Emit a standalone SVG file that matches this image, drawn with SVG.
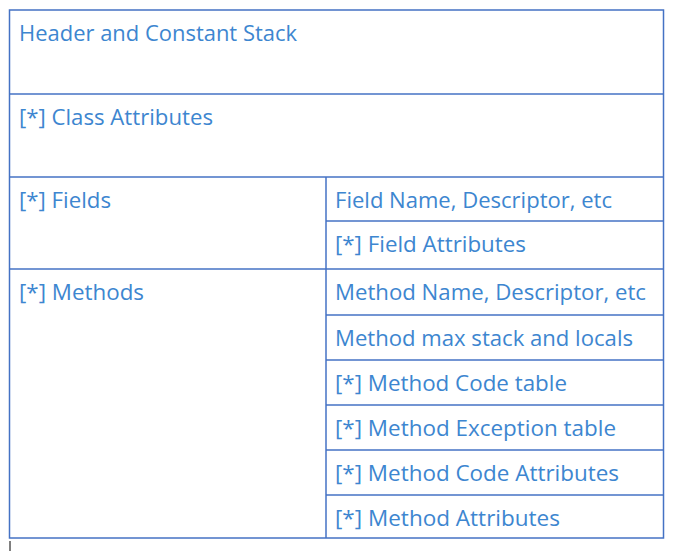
<svg xmlns="http://www.w3.org/2000/svg" width="675" height="551" viewBox="0 0 675 551">
  <style>
    .grid { stroke: #4472c4; stroke-width: 1.5; fill: none; }
    .cell { font-family: "Open Sans", "Noto Sans", "Liberation Sans", sans-serif; font-size: 22.5px; fill: #3d86d0; }
  </style>
  <rect width="675" height="551" fill="#ffffff"/>

  <!-- table grid -->
  <g id="grid" class="grid">
    <rect x="9.5" y="10" width="654" height="528"/>
    <line x1="9.5" y1="94" x2="663.5" y2="94"/>
    <line x1="9.5" y1="177" x2="663.5" y2="177"/>
    <line x1="9.5" y1="269" x2="663.5" y2="269"/>
    <line x1="326" y1="177" x2="326" y2="538"/>
    <line x1="326" y1="221" x2="663.5" y2="221"/>
    <line x1="326" y1="315" x2="663.5" y2="315"/>
    <line x1="326" y1="360" x2="663.5" y2="360"/>
    <line x1="326" y1="405" x2="663.5" y2="405"/>
    <line x1="326" y1="450" x2="663.5" y2="450"/>
    <line x1="326" y1="495" x2="663.5" y2="495"/>
  </g>

  <g id="header"><text class="cell" x="19" y="41" textLength="278" lengthAdjust="spacingAndGlyphs">Header and Constant Stack</text></g>
  <g id="class-attributes"><text class="cell" x="19" y="125" textLength="194" lengthAdjust="spacingAndGlyphs">[*] Class Attributes</text></g>
  <g id="fields"><text class="cell" x="19" y="208" textLength="92" lengthAdjust="spacingAndGlyphs">[*] Fields</text></g>
  <g id="field-name"><text class="cell" x="335" y="208" textLength="277" lengthAdjust="spacingAndGlyphs">Field Name, Descriptor, etc</text></g>
  <g id="field-attributes"><text class="cell" x="335" y="252" textLength="191" lengthAdjust="spacingAndGlyphs">[*] Field Attributes</text></g>
  <g id="methods"><text class="cell" x="19" y="300" textLength="125" lengthAdjust="spacingAndGlyphs">[*] Methods</text></g>
  <g id="method-name"><text class="cell" x="335" y="300" textLength="311" lengthAdjust="spacingAndGlyphs">Method Name, Descriptor, etc</text></g>
  <g id="method-max"><text class="cell" x="335" y="346" textLength="298" lengthAdjust="spacingAndGlyphs">Method max stack and locals</text></g>
  <g id="method-code-table"><text class="cell" x="335" y="391" textLength="232" lengthAdjust="spacingAndGlyphs">[*] Method Code table</text></g>
  <g id="method-exception-table"><text class="cell" x="335" y="436" textLength="281" lengthAdjust="spacingAndGlyphs">[*] Method Exception table</text></g>
  <g id="method-code-attributes"><text class="cell" x="335" y="481" textLength="284" lengthAdjust="spacingAndGlyphs">[*] Method Code Attributes</text></g>
  <g id="method-attributes"><text class="cell" x="335" y="526" textLength="225" lengthAdjust="spacingAndGlyphs">[*] Method Attributes</text></g>

  <!-- text cursor below the table -->
  <line x1="10" y1="541" x2="10" y2="551" stroke="#000000" stroke-width="1"/>
</svg>
